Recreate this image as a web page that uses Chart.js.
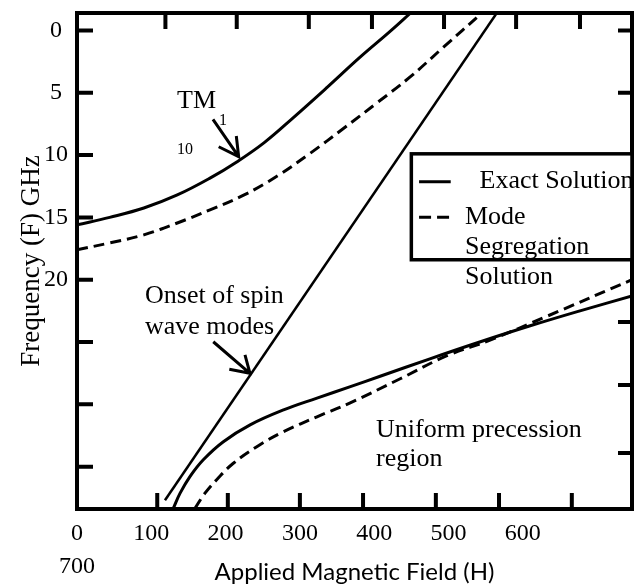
<!DOCTYPE html>
<html>
<head>
<meta charset="utf-8">
<script src="https://cdn.jsdelivr.net/npm/chart.js@4.4.1/dist/chart.umd.min.js"></script>
<style>
  html, body { margin: 0; padding: 0; background: #fff; }
  canvas { display: block; }
</style>
</head>
<body>
<canvas id="chart" width="638" height="588"></canvas>
<script>
// ======================
// Values: H (applied field) and F (GHz)
// ======================
const tmExactH = [0, 44, 90, 135, 179, 215, 252, 292, 337, 381, 421, 449];
const tmExactF = [15.6, 15.0, 14.25, 13.2, 11.85, 10.55, 9.0, 6.95, 4.55, 2.15, 0.1, -1.4];

const tmModeH = [0, 44, 90, 135, 179, 225, 269, 314, 359, 404, 448, 494, 545];
const tmModeF = [17.6, 17.05, 16.4, 15.45, 14.4, 13.2, 11.7, 9.85, 7.85, 5.8, 3.75, 1.3, -1.4];

const spinH = [118.4, 565];
const spinF = [37.7, -1.4];

const upExactH = [129.6, 138.6, 152, 170, 197, 233, 278, 323, 367, 408, 475, 542, 610, 677, 747];
const upExactF = [38.35, 37.15, 35.8, 34.45, 33.0, 31.65, 30.45, 29.5, 28.6, 27.75, 26.35, 25.0, 23.7, 22.5, 21.3];

const upModeH = [158.8, 172, 188, 210, 242, 278, 323, 367, 435, 498, 556, 632, 747];
const upModeF = [38.35, 37.15, 36.05, 34.75, 33.4, 32.2, 31.0, 29.9, 27.95, 26.1, 24.85, 22.95, 20.0];

// tick labels and (inward) tick marks
const xLabels = [0, 100, 200, 300, 400, 500, 600];
const yLabels = [0, 5, 10, 15, 20];
const xMarksBottom = [108, 203, 300, 385, 483, 568, 666];
const xMarksTop = [119, 215, 312, 397, 494, 591, 677];
const yMarksLeft = [0, 5, 10, 15, 20, 25, 30, 35];
const yMarksRight = [0, 5, 23.4, 28.45, 33.9];

const pts = (hs, fs) => hs.map((h, i) => ({ x: h, y: fs[i] }));

const SERIF = '"Liberation Serif", "Times New Roman", serif';

// ========== frame, tick marks, notes and legend box ==========
const annotations = {
    id: 'annotations',
    afterDatasetsDraw(chart) {
        const { ctx, chartArea: area, scales: { x, y } } = chart;
        const px = v => x.getPixelForValue(v);
        const py = v => y.getPixelForValue(v);

        ctx.save();
        ctx.strokeStyle = '#000';
        ctx.fillStyle = '#000';

        // top / right frame + inward tick marks
        ctx.lineWidth = 4;
        ctx.beginPath();
        ctx.moveTo(area.left - 2, area.top); ctx.lineTo(area.right + 2, area.top);
        ctx.moveTo(area.right, area.top - 2); ctx.lineTo(area.right, area.bottom + 2);
        xMarksBottom.forEach(v => { ctx.moveTo(px(v), area.bottom); ctx.lineTo(px(v), area.bottom - 16); });
        xMarksTop.forEach(v => { ctx.moveTo(px(v), area.top); ctx.lineTo(px(v), area.top + 16); });
        yMarksLeft.forEach(v => { ctx.moveTo(area.left, py(v)); ctx.lineTo(area.left + 16, py(v)); });
        yMarksRight.forEach(v => { ctx.moveTo(area.right, py(v)); ctx.lineTo(area.right - 14, py(v)); });
        ctx.stroke();

        // arrows
        const arrow = (a, tip, h1, h2) => {
            ctx.lineWidth = 3;
            ctx.beginPath();
            ctx.moveTo(px(a[0]), py(a[1])); ctx.lineTo(px(tip[0]), py(tip[1]));
            ctx.moveTo(px(h1[0]), py(h1[1])); ctx.lineTo(px(tip[0]), py(tip[1])); ctx.lineTo(px(h2[0]), py(h2[1]));
            ctx.stroke();
        };
        arrow([183, 7.13], [217.6, 10.13], [214.4, 8.47], [190.7, 9.33]);
        arrow([183.4, 24.98], [232.8, 27.51], [226.1, 26.04], [205, 27.19]);

        // text notes
        ctx.textBaseline = 'alphabetic';
        ctx.textAlign = 'left';
        ctx.font = '26px ' + SERIF;
        ctx.fillText('TM', px(134.6), py(6.22));
        ctx.fillText('Onset of spin', px(91.5), py(21.87));
        ctx.fillText('wave modes', px(91.5), py(24.36));
        ctx.fillText('Uniform precession', px(402.4), py(32.62));
        ctx.fillText('region', px(402.4), py(34.95));
        ctx.font = '16px ' + SERIF;
        ctx.fillText('1', px(191), py(7.6));
        ctx.fillText('10', px(134.6), py(9.9));

        // legend box
        const lx0 = px(450), ly0 = py(9.9), ly1 = py(18.4), lx1 = area.right;
        ctx.fillStyle = '#fff';
        ctx.fillRect(lx0, ly0, lx1 - lx0, ly1 - ly0);
        ctx.lineWidth = 3.5;
        ctx.strokeRect(lx0, ly0, lx1 - lx0, ly1 - ly0);

        ctx.lineWidth = 3;
        ctx.beginPath();
        ctx.moveTo(px(460.4), py(12.14)); ctx.lineTo(px(503), py(12.14));
        ctx.stroke();
        ctx.setLineDash([12, 6]);
        ctx.beginPath();
        ctx.moveTo(px(460.4), py(14.99)); ctx.lineTo(px(505), py(14.99));
        ctx.stroke();
        ctx.setLineDash([]);

        ctx.fillStyle = '#000';
        ctx.font = '26px ' + SERIF;
        ctx.beginPath();
        ctx.rect(0, 0, area.right + 1, chart.height);
        ctx.clip();
        ctx.fillText('Exact Solution', px(541.9), py(12.64));
        ctx.fillText('Mode', px(522.2), py(15.53));
        ctx.fillText('Segregation', px(522.2), py(17.94));
        ctx.fillText('Solution', px(522.2), py(20.35));

        ctx.restore();
    }
};

const solid = { borderColor: '#000', borderWidth: 3, pointRadius: 0, fill: false, tension: 0.4 };
const dashed = Object.assign({}, solid, { borderDash: [11, 6] });

new Chart(document.getElementById('chart'), {
    type: 'line',
    data: {
        datasets: [
            Object.assign({ label: 'TM10 exact', data: pts(tmExactH, tmExactF) }, solid),
            Object.assign({ label: 'TM10 mode segregation', data: pts(tmModeH, tmModeF) }, dashed),
            Object.assign({ label: 'Onset of spin wave modes', data: pts(spinH, spinF) }, solid, { borderWidth: 2.5, tension: 0 }),
            Object.assign({ label: 'Uniform precession exact', data: pts(upExactH, upExactF) }, solid),
            Object.assign({ label: 'Uniform precession mode segregation', data: pts(upModeH, upModeF) }, dashed)
        ]
    },
    options: {
        responsive: false,
        devicePixelRatio: 1,
        animation: false,
        events: [],
        layout: { padding: { top: 13, right: 6, left: 0, bottom: 0 } },
        plugins: { legend: { display: false }, tooltip: { enabled: false } },
        scales: {
            x: {
                type: 'linear',
                min: 0,
                max: 747,
                afterBuildTicks: s => { s.ticks = xLabels.map(v => ({ value: v })); },
                afterFit: s => { s.height = 79; s.paddingLeft = 0; s.paddingRight = 0; },
                grid: { display: false, drawTicks: false, lineWidth: 4 },
                border: { display: true, color: '#000', width: 4 },
                ticks: {
                    color: '#000',
                    padding: 8,
                    maxRotation: 0,
                    autoSkip: false,
                    font: { family: SERIF, size: 24, lineHeight: 1.375 },
                    callback: v => v === 0 ? ['0', '700'] : String(v)
                },
                title: {
                    display: true,
                    text: 'Applied Magnetic Field (H)',
                    color: '#000',
                    font: { family: 'Lato, "Open Sans", sans-serif', size: 24 },
                    padding: { top: 0, bottom: 1 }
                }
            },
            y: {
                type: 'linear',
                reverse: true,
                min: -1.4,
                max: 38.4,
                afterBuildTicks: s => { s.ticks = yLabels.map(v => ({ value: v })); },
                afterFit: s => { s.width = 77; s.paddingTop = 0; s.paddingBottom = 0; },
                grid: { display: false, drawTicks: false, lineWidth: 4 },
                border: { display: true, color: '#000', width: 4 },
                ticks: {
                    color: '#000',
                    padding: 9,
                    crossAlign: 'center',
                    font: { family: SERIF, size: 24 },
                    callback: v => String(v)
                },
                title: {
                    display: true,
                    text: 'Frequency (F) GHz',
                    color: '#000',
                    font: { family: SERIF, size: 27 },
                    padding: { top: 16, bottom: 0 }
                }
            }
        }
    },
    plugins: [annotations]
});
</script>
</body>
</html>
